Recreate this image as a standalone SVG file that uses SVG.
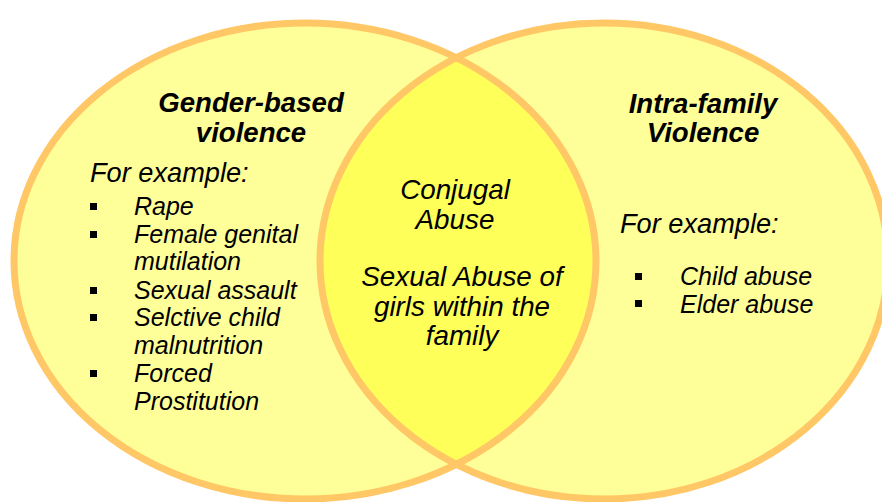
<svg xmlns="http://www.w3.org/2000/svg" width="882" height="502" viewBox="0 0 882 502">
  <defs>
    <style>
      .fill { fill: #FFFF99; stroke: none; }
      .ring { fill: none; stroke: #FFC766; stroke-width: 7; }
      .overlap { fill: #FFFF5A; stroke: none; }
      text { font-family: "Liberation Sans", Arial, sans-serif; font-style: italic; fill: #000; }
      .title { font-size: 27.6px; font-weight: bold; text-anchor: middle; }
      .lead { font-size: 27.2px; }
      .item { font-size: 25px; }
      .mid { font-size: 27.8px; text-anchor: middle; }
      .bullet { fill: #000; }
    </style>
    <clipPath id="clipLeft">
      <ellipse cx="305" cy="261" rx="291" ry="238"/>
    </clipPath>
  </defs>
  <rect x="0" y="0" width="882" height="502" fill="#FFFFFF"/>

  <g id="node-gender-based-fill">
    <ellipse class="fill" cx="306" cy="262" rx="291" ry="238"/>
  </g>
  <g id="node-intra-family-fill">
    <ellipse class="fill" cx="605" cy="262" rx="284" ry="238"/>
  </g>
  <g id="node-overlap">
    <ellipse class="overlap" cx="604" cy="261" rx="284" ry="238" clip-path="url(#clipLeft)"/>
  </g>
  <g id="node-gender-based">
    <ellipse class="ring" cx="305" cy="261" rx="291" ry="238"/>
  </g>
  <g id="node-intra-family">
    <ellipse class="ring" cx="604" cy="261" rx="284" ry="238"/>
  </g>
  <g id="connectors"/>

  <g id="label-gender-based">
    <text class="title" x="251" y="112">Gender-based</text>
    <text class="title" x="251" y="142">violence</text>
    <text class="lead" x="90" y="182">For example:</text>
    <rect class="bullet" x="90" y="203" width="7" height="7"/>
    <text class="item" x="134" y="215">Rape</text>
    <rect class="bullet" x="90" y="231" width="7" height="7"/>
    <text class="item" x="134" y="243">Female genital</text>
    <text class="item" x="134" y="270">mutilation</text>
    <rect class="bullet" x="90" y="287" width="7" height="7"/>
    <text class="item" x="134" y="299">Sexual assault</text>
    <rect class="bullet" x="90" y="314" width="7" height="7"/>
    <text class="item" x="134" y="326">Selctive child</text>
    <text class="item" x="134" y="354">malnutrition</text>
    <rect class="bullet" x="90" y="370" width="7" height="7"/>
    <text class="item" x="134" y="382">Forced</text>
    <text class="item" x="134" y="410">Prostitution</text>
  </g>

  <g id="label-overlap">
    <text class="mid" x="455" y="199">Conjugal</text>
    <text class="mid" x="455" y="229">Abuse</text>
    <text class="mid" x="462" y="286">Sexual Abuse of</text>
    <text class="mid" x="462" y="316">girls within the</text>
    <text class="mid" x="462" y="345">family</text>
  </g>

  <g id="label-intra-family">
    <text class="title" x="703" y="113">Intra-family</text>
    <text class="title" x="703" y="142">Violence</text>
    <text class="lead" x="620" y="233">For example:</text>
    <rect class="bullet" x="635" y="273" width="7" height="7"/>
    <text class="item" x="680" y="285">Child abuse</text>
    <rect class="bullet" x="635" y="300" width="7" height="7"/>
    <text class="item" x="680" y="313">Elder abuse</text>
  </g>
</svg>
